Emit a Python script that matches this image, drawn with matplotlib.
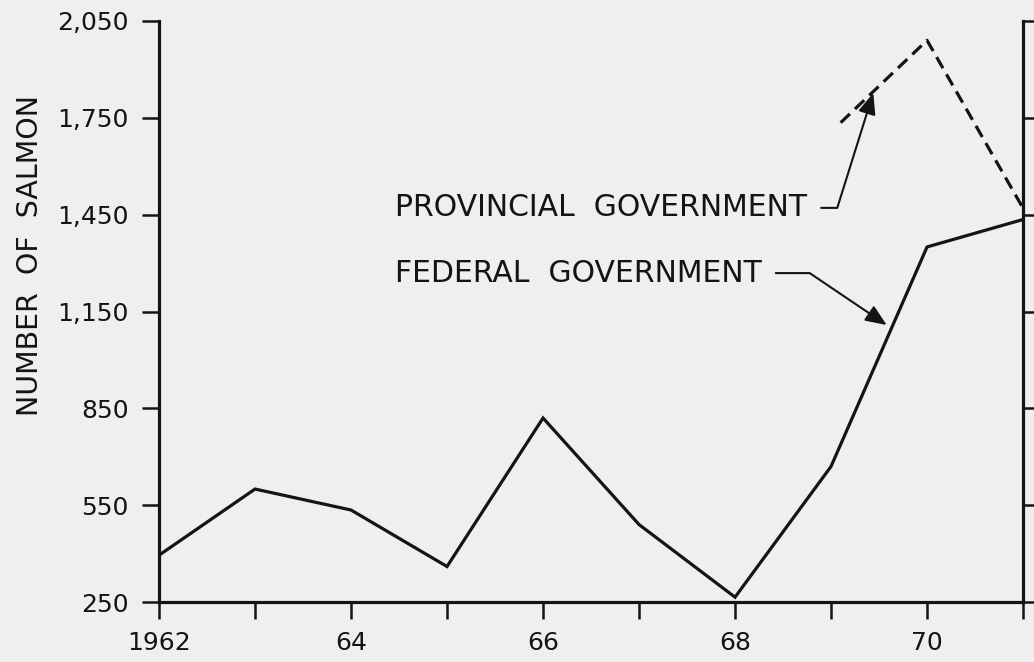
import matplotlib
matplotlib.use("Agg")
import matplotlib.pyplot as plt

# Data
years = [1962, 1963, 1964, 1965, 1966, 1967, 1968, 1969, 1970, 1971]
federal = [395, 600, 535, 360, 820, 490, 265, 670, 1350, 1435]

prov_years = [1969.1, 1970, 1971]
provincial = [1735, 1990, 1470]

yticks = [250, 550, 850, 1150, 1450, 1750, 2050]
ytick_labels = ["250", "550", "850", "1,150", "1,450", "1,750", "2,050"]
xticks = [1962, 1963, 1964, 1965, 1966, 1967, 1968, 1969, 1970, 1971]
xtick_labels = ["1962", "", "64", "", "66", "", "68", "", "70", ""]

bg = "#efefef"
ink = "#141414"

fig = plt.figure(figsize=(10.34, 6.62), dpi=100, facecolor=bg)
ax = fig.add_axes([0.1538, 0.0906, 0.8356, 0.8777])
ax.set_facecolor(bg)

ax.plot(years, federal, color=ink, lw=2.3, solid_joinstyle="miter")
ax.plot(prov_years, provincial, color=ink, lw=2.3, dashes=(4, 2.2))

ax.set_xlim(1962, 1971)
ax.set_ylim(250, 2050)
ax.set_xticks(xticks)
ax.set_xticklabels(xtick_labels)
ax.set_yticks(yticks)
ax.set_yticklabels(ytick_labels)

ax.spines["top"].set_visible(False)
for s in ["left", "bottom", "right"]:
    ax.spines[s].set_linewidth(2.3)
    ax.spines[s].set_color(ink)
ax.tick_params(axis="both", direction="out", length=12, width=1.8, color=ink,
               labelcolor=ink, labelsize=18)
ax.tick_params(axis="y", pad=10, right=True)
ax.tick_params(axis="x", pad=9)

fig.text(30 / 1034, 1 - 255 / 662, "NUMBER  OF  SALMON", rotation=90,
         ha="center", va="center", fontsize=20.5, color=ink)

# callouts: short horizontal hook from the label, then a leader to the line
arrow = dict(arrowstyle="-|>,head_length=0.6,head_width=0.25", color=ink, lw=1.5,
             shrinkA=8, shrinkB=0, relpos=(1, 0.5))

ax.annotate("PROVINCIAL  GOVERNMENT", xy=(1969.44, 1827), xytext=(1964.46, 1471),
            fontsize=21.5, color=ink, ha="left", va="center",
            arrowprops=dict(arrow, connectionstyle="angle,angleA=0,angleB=72.6,rad=0"))
ax.annotate("FEDERAL  GOVERNMENT", xy=(1969.58, 1108), xytext=(1964.46, 1269),
            fontsize=21.5, color=ink, ha="left", va="center",
            arrowprops=dict(arrow, connectionstyle="angle,angleA=0,angleB=-34,rad=0"))

fig.savefig("out.png", dpi=100, facecolor=bg)
